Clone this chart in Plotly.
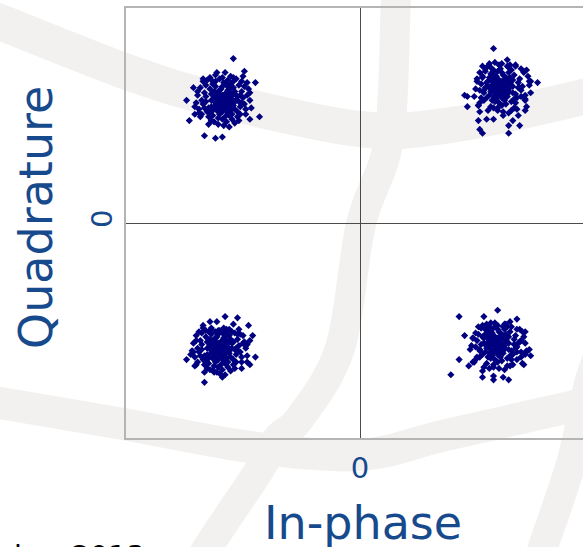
import plotly.graph_objects as go

# Received QPSK symbols (in-phase, quadrature) grouped by constellation point
rx_upper_left = [
    (-0.92, 1.30), (-1.04, 1.19), (-0.98, 1.19), (-0.84, 1.20), (-0.85, 1.16),
    (-1.14, 1.12), (-1.07, 1.12), (-0.76, 1.11), (-0.92, 1.15), (-1.21, 1.07),
    (-1.18, 1.04), (-1.26, 0.97), (-0.73, 0.84), (-0.80, 0.82), (-1.24, 0.81),
    (-1.20, 0.86), (-1.13, 0.69), (-1.05, 0.67), (-1.00, 0.68),
    (-1.00, 0.96), (-0.95, 0.99), (-1.05, 0.93), (-0.98, 1.02), (-1.03, 1.00),
    (-0.93, 0.94), (-1.08, 0.97), (-0.97, 0.90), (-1.01, 1.06), (-0.90, 1.01),
    (-1.06, 1.04), (-0.96, 0.87), (-1.10, 0.91), (-0.92, 1.07), (-0.99, 0.98),
    (-1.04, 0.89), (-0.94, 1.03), (-1.02, 0.94), (-0.88, 0.96), (-1.12, 1.00),
    (-0.97, 1.09), (-1.07, 0.85), (-0.91, 0.90), (-1.00, 1.01), (-0.95, 0.92),
    (-1.03, 0.97), (-0.86, 1.04), (-1.09, 1.06), (-0.98, 0.84), (-1.01, 0.92),
    (-0.93, 0.98), (-1.05, 1.08), (-0.89, 0.88), (-1.14, 0.94), (-0.96, 1.05),
    (-1.02, 0.86), (-0.94, 0.95), (-1.06, 0.99), (-0.99, 1.11), (-0.87, 0.92),
    (-1.11, 0.88), (-0.92, 1.12), (-1.04, 1.03), (-0.97, 0.95), (-1.00, 0.88),
    (-0.90, 0.97), (-1.08, 0.92), (-0.95, 1.06), (-1.03, 0.83), (-0.85, 0.99),
    (-1.13, 1.03), (-0.98, 1.00), (-1.01, 0.99), (-0.93, 0.86), (-1.07, 1.10),
    (-0.96, 0.97), (-1.15, 0.97), (-0.91, 1.04), (-1.02, 1.02), (-0.88, 1.09),
    (-1.05, 0.95), (-0.99, 0.93), (-0.94, 0.89), (-1.09, 0.87), (-0.97, 1.03),
    (-1.00, 1.08), (-0.84, 0.94), (-1.04, 0.91), (-0.92, 0.93), (-1.06, 1.01),
    (-0.95, 0.85), (-1.12, 0.96), (-0.98, 0.91), (-1.02, 1.05), (-0.89, 1.00),
    (-1.17, 0.90), (-0.96, 1.00), (-1.03, 0.94), (-0.91, 0.96), (-1.08, 1.02),
    (-0.82, 1.01), (-1.00, 0.82), (-0.94, 1.10), (-1.10, 0.84), (-0.99, 0.95),
    (-0.87, 0.86), (-1.05, 1.12), (-0.93, 1.01), (-1.01, 0.89), (-0.97, 0.80),
    (-0.84, 1.08), (-1.16, 0.84), (-1.12, 1.09), (-0.83, 0.86), (-0.95, 0.76),
    (-1.05, 1.17), (-1.19, 0.95), (-0.80, 0.97), (-0.90, 1.14), (-1.10, 0.78),
    (-0.88, 0.81), (-1.14, 1.14), (-1.00, 1.15), (-0.99, 0.77), (-1.18, 1.01),
    (-0.81, 1.06), (-0.86, 1.12), (-1.08, 0.81), (-1.15, 0.86), (-0.79, 0.91),
    (-0.94, 1.16), (-1.03, 0.78), (-1.20, 0.92), (-0.82, 1.11), (-1.11, 1.13),
    (-0.91, 0.79), (-0.87, 1.01), (-1.13, 0.91), (-0.96, 1.13), (-1.06, 0.80),
    (-0.83, 0.90), (-1.16, 1.07), (-1.02, 1.14), (-0.89, 0.84), (-1.09, 1.15),
    (-0.80, 1.03), (-1.17, 0.87), (-0.93, 0.82), (-1.07, 0.89), (-0.86, 0.95),
]

rx_upper_right = [
    (0.97, 1.38), (1.07, 1.29), (1.13, 1.25), (1.19, 1.20), (0.89, 1.16),
    (1.29, 1.11), (1.24, 1.12), (0.76, 1.01), (0.78, 1.00), (0.78, 0.92),
    (0.86, 0.93), (0.87, 0.88), (0.86, 0.81), (0.92, 0.82), (1.20, 0.89),
    (1.15, 0.85), (1.11, 0.81), (1.16, 0.77), (1.08, 0.77), (0.87, 0.74),
    (0.89, 0.71), (1.08, 0.71), (1.04, 0.85), (0.97, 0.82),
    (1.03, 1.07), (0.98, 1.10), (1.08, 1.04), (1.01, 1.13), (1.06, 1.11),
    (0.96, 1.05), (1.11, 1.08), (1.00, 1.01), (1.04, 1.17), (0.93, 1.12),
    (1.09, 1.15), (0.99, 0.98), (1.13, 1.02), (0.95, 1.18), (1.02, 1.09),
    (1.07, 1.00), (0.97, 1.14), (1.05, 1.05), (0.91, 1.07), (1.15, 1.11),
    (1.00, 1.20), (1.10, 0.96), (0.94, 1.01), (1.03, 1.12), (0.98, 1.03),
    (1.06, 1.08), (0.89, 1.15), (1.12, 1.17), (1.01, 0.95), (1.04, 1.03),
    (0.96, 1.09), (1.08, 1.19), (0.92, 0.99), (1.17, 1.05), (0.99, 1.16),
    (1.05, 0.97), (0.97, 1.06), (1.09, 1.10), (1.02, 1.22), (0.90, 1.03),
    (1.14, 0.99), (0.95, 1.23), (1.07, 1.14), (1.00, 1.06), (1.03, 0.99),
    (0.93, 1.08), (1.11, 1.03), (0.98, 1.17), (1.06, 0.94), (0.88, 1.10),
    (1.16, 1.14), (1.01, 1.11), (1.04, 1.10), (0.96, 0.97), (1.10, 1.21),
    (0.99, 1.08), (1.18, 1.08), (0.94, 1.15), (1.05, 1.13), (0.91, 1.20),
    (1.08, 1.06), (1.02, 1.04), (0.97, 1.00), (1.12, 0.98), (1.00, 1.14),
    (1.03, 1.19), (0.87, 1.05), (1.07, 1.02), (0.95, 1.04), (1.09, 1.12),
    (0.98, 0.96), (1.15, 1.07), (1.01, 1.02), (1.05, 1.16), (0.92, 1.11),
    (1.20, 1.01), (0.99, 1.11), (1.06, 1.05), (0.94, 1.07), (1.11, 1.13),
    (0.85, 1.12), (1.03, 0.93), (0.97, 1.21), (1.13, 0.95), (1.02, 1.06),
    (0.90, 0.97), (1.08, 1.23), (0.96, 1.12), (1.04, 1.00), (1.00, 0.91),
    (1.19, 1.19), (0.87, 0.95), (0.91, 1.22), (1.20, 0.97), (1.08, 0.87),
    (0.98, 1.27), (0.84, 1.06), (1.23, 1.09), (1.13, 1.24), (0.93, 0.89),
    (1.21, 0.92), (0.89, 1.24), (1.03, 1.26), (1.04, 0.88), (0.85, 1.14),
    (1.22, 1.16), (1.17, 1.22), (0.95, 0.92), (0.88, 0.99), (1.24, 1.03),
    (1.09, 1.25), (1.00, 0.89), (0.83, 1.00), (1.21, 1.21), (0.92, 1.23),
    (1.12, 0.91), (1.16, 1.07), (0.90, 1.05), (1.07, 1.24), (0.97, 0.91),
    (1.20, 0.98), (0.87, 1.19), (1.01, 1.25), (1.14, 0.90), (0.94, 1.26),
    (1.23, 1.12), (0.86, 0.93), (1.10, 0.89), (0.96, 1.18), (1.17, 1.00),
]

rx_lower_left = [
    (-0.98, -0.74), (-0.89, -0.75), (-0.92, -0.80), (-0.81, -0.81), (-0.88, -0.84),
    (-0.78, -0.89), (-0.80, -0.93), (-0.82, -0.96), (-1.14, -0.81), (-1.04, -0.78),
    (-1.09, -0.78), (-1.19, -0.93), (-1.26, -1.08), (-1.21, -1.02), (-0.76, -1.06),
    (-0.80, -1.12), (-0.82, -1.10), (-1.13, -1.26), (-1.07, -1.16), (-1.00, -1.22),
    (-1.04, -1.18), (-0.86, -1.15),
    (-1.03, -1.00), (-0.98, -0.97), (-1.08, -1.03), (-1.01, -0.94), (-1.06, -0.96),
    (-0.96, -1.02), (-1.11, -0.99), (-1.00, -1.06), (-1.04, -0.90), (-0.93, -0.95),
    (-1.09, -0.92), (-0.99, -1.09), (-1.13, -1.05), (-0.95, -0.89), (-1.02, -0.98),
    (-1.07, -1.07), (-0.97, -0.93), (-1.05, -1.02), (-0.91, -1.00), (-1.15, -0.96),
    (-1.00, -0.87), (-1.10, -1.11), (-0.94, -1.06), (-1.03, -0.95), (-0.98, -1.04),
    (-1.06, -0.99), (-0.89, -0.92), (-1.12, -0.90), (-1.01, -1.12), (-1.04, -1.04),
    (-0.96, -0.98), (-1.08, -0.88), (-0.92, -1.08), (-1.17, -1.02), (-0.99, -0.91),
    (-1.05, -1.10), (-0.97, -1.01), (-1.09, -0.97), (-1.02, -0.85), (-0.90, -1.04),
    (-1.14, -1.08), (-0.95, -0.84), (-1.07, -0.93), (-1.00, -1.01), (-1.03, -1.08),
    (-0.93, -0.99), (-1.11, -1.04), (-0.98, -0.90), (-1.06, -1.13), (-0.88, -0.97),
    (-1.16, -0.93), (-1.01, -0.96), (-1.04, -0.97), (-0.96, -1.10), (-1.10, -0.86),
    (-0.99, -0.99), (-1.18, -0.99), (-0.94, -0.92), (-1.05, -0.94), (-0.91, -0.87),
    (-1.08, -1.01), (-1.02, -1.03), (-0.97, -1.07), (-1.12, -1.09), (-1.00, -0.93),
    (-1.03, -0.88), (-0.87, -1.02), (-1.07, -1.05), (-0.95, -1.03), (-1.09, -0.95),
    (-0.98, -1.11), (-1.15, -1.00), (-1.01, -1.05), (-1.05, -0.91), (-0.92, -0.94),
    (-1.20, -1.06), (-0.99, -0.96), (-1.06, -1.02), (-0.94, -1.00), (-1.11, -0.94),
    (-0.85, -0.95), (-1.03, -1.14), (-0.97, -0.86), (-1.13, -1.12), (-1.02, -1.01),
    (-0.90, -1.10), (-1.08, -0.84), (-0.96, -0.95), (-1.04, -1.06), (-1.00, -1.16),
    (-0.87, -0.88), (-1.19, -1.12), (-1.15, -0.87), (-0.86, -1.10), (-0.98, -1.20),
    (-1.08, -0.83), (-1.22, -1.01), (-0.83, -0.99), (-0.93, -0.86), (-1.13, -1.18),
    (-0.91, -1.15), (-1.17, -0.86), (-1.03, -0.85), (-1.02, -1.19), (-1.21, -0.95),
    (-0.84, -0.94), (-0.89, -0.88), (-1.11, -1.15), (-1.18, -1.10), (-0.82, -1.05),
    (-0.97, -0.84), (-1.06, -1.18), (-1.23, -1.04), (-0.85, -0.89), (-1.14, -0.83),
    (-0.94, -1.17), (-0.90, -0.99), (-1.16, -1.05), (-0.99, -0.83), (-1.09, -1.16),
    (-0.86, -1.06), (-1.19, -0.89), (-1.05, -0.86), (-0.92, -1.12), (-1.12, -0.85),
    (-0.83, -0.97), (-1.20, -1.13), (-0.96, -1.14), (-1.10, -1.07), (-0.89, -1.01),
]

rx_lower_right = [
    (1.00, -0.69), (0.72, -0.74), (0.90, -0.74), (1.14, -0.76), (1.09, -0.78),
    (0.76, -0.89), (1.20, -0.86), (1.16, -0.94), (1.23, -1.00), (1.24, -1.05),
    (1.21, -1.02), (0.72, -1.08), (0.66, -1.20), (1.19, -1.12), (1.14, -1.08),
    (0.89, -1.17), (0.97, -1.21), (0.89, -1.22), (1.04, -1.22), (1.08, -1.24),
    (0.97, -1.24), (0.82, -1.10), (0.79, -1.13),
    (1.00, -0.96), (0.95, -0.93), (1.05, -0.99), (0.98, -0.90), (1.03, -0.92),
    (0.93, -0.98), (1.08, -0.95), (0.97, -1.02), (1.01, -0.86), (0.90, -0.91),
    (1.06, -0.88), (0.96, -1.05), (1.10, -1.01), (0.92, -0.85), (0.99, -0.94),
    (1.04, -1.03), (0.94, -0.89), (1.02, -0.98), (0.88, -0.96), (1.12, -0.92),
    (0.97, -0.83), (1.07, -1.07), (0.91, -1.02), (1.00, -0.91), (0.95, -1.00),
    (1.03, -0.95), (0.86, -0.88), (1.09, -0.86), (0.98, -1.08), (1.01, -1.00),
    (0.93, -0.94), (1.05, -0.84), (0.89, -1.04), (1.14, -0.98), (0.96, -0.87),
    (1.02, -1.06), (0.94, -0.97), (1.06, -0.93), (0.99, -0.81), (0.87, -1.00),
    (1.11, -1.04), (0.92, -0.80), (1.04, -0.89), (0.97, -0.97), (1.00, -1.04),
    (0.90, -0.95), (1.08, -1.00), (0.95, -0.86), (1.03, -1.09), (0.85, -0.93),
    (1.13, -0.89), (0.98, -0.92), (1.01, -0.93), (0.93, -1.06), (1.07, -0.82),
    (0.96, -0.95), (1.15, -0.95), (0.91, -0.88), (1.02, -0.90), (0.88, -0.83),
    (1.05, -0.97), (0.99, -0.99), (0.94, -1.03), (1.09, -1.05), (0.97, -0.89),
    (1.00, -0.84), (0.84, -0.98), (1.04, -1.01), (0.92, -0.99), (1.06, -0.91),
    (0.95, -1.07), (1.12, -0.96), (0.98, -1.01), (1.02, -0.87), (0.89, -0.90),
    (1.17, -1.02), (0.96, -0.92), (1.03, -0.98), (0.91, -0.96), (1.08, -0.90),
    (0.82, -0.91), (1.00, -1.10), (0.94, -0.82), (1.10, -1.08), (0.99, -0.97),
    (0.87, -1.06), (1.05, -0.80), (0.93, -0.91), (1.01, -1.02), (0.97, -1.12),
    (1.16, -0.84), (0.84, -1.08), (0.88, -0.83), (1.17, -1.06), (1.05, -1.16),
    (0.95, -0.79), (0.81, -0.97), (1.20, -0.95), (1.10, -0.82), (0.90, -1.14),
    (1.18, -1.11), (0.86, -0.82), (1.00, -0.81), (1.01, -1.15), (0.82, -0.91),
    (1.19, -0.90), (1.14, -0.84), (0.92, -1.11), (0.85, -1.06), (1.21, -1.01),
    (1.06, -0.80), (0.97, -1.14), (0.80, -1.00), (1.18, -0.86), (0.89, -0.81),
    (1.09, -1.13), (1.13, -0.99), (0.87, -1.01), (1.04, -0.82), (0.94, -1.15),
    (1.17, -0.93), (0.84, -0.87), (0.98, -0.79), (1.11, -1.12), (0.91, -0.84),
    (1.20, -1.04), (0.83, -1.10), (1.07, -1.13), (0.93, -0.88), (1.14, -1.02),
]

clusters = [rx_upper_left, rx_upper_right, rx_lower_left, rx_lower_right]

axis_ticks = [0]
axis_tick_text = ["0"]
x_title = "In-phase"
y_title = "Quadrature"
footer_text = "ber 2013"

TITLE_BLUE = "#174a8c"
MARKER_NAVY = "#000080"
WATERMARK = "#f2f1ef"

W, H = 583, 547
L, R, T, B = 126, 0, 8, 109
PW, PH = W - L - R, H - T - B


def to_paper(p):
    px, py = p
    return ((px - L) / PW, (H - B - py) / PH)


def smooth_path(points):
    """Catmull-Rom curve through pixel points, as an SVG path in paper units."""
    P = [to_paper(p) for p in points]
    d = f"M {P[0][0]:.4f},{P[0][1]:.4f}"
    for i in range(len(P) - 1):
        p0 = P[i - 1] if i > 0 else P[i]
        p1, p2 = P[i], P[i + 1]
        p3 = P[i + 2] if i + 2 < len(P) else P[i + 1]
        c1 = (p1[0] + (p2[0] - p0[0]) / 6, p1[1] + (p2[1] - p0[1]) / 6)
        c2 = (p2[0] - (p3[0] - p1[0]) / 6, p2[1] - (p3[1] - p1[1]) / 6)
        d += (f" C {c1[0]:.4f},{c1[1]:.4f} {c2[0]:.4f},{c2[1]:.4f}"
              f" {p2[0]:.4f},{p2[1]:.4f}")
    return d


# Background emblem strokes (pixel centre-lines, stroke width)
emblem = [
    ([(-30, 10), (0, 22), (130, 73), (220, 100), (360, 129), (450, 125), (583, 97), (620, 85)], 36),
    ([(-30, 398), (0, 403), (123, 424), (250, 447), (360, 455), (446, 435), (583, 404), (620, 394)], 32),
    ([(400, -30), (396, 0), (389, 139), (361, 224), (340, 348), (300, 418), (278, 438), (258, 472), (208, 547), (190, 580)], 30),
    ([(610, 330), (590, 380), (572, 460), (543, 547), (532, 580)], 30),
]

fig = go.Figure()

for pts in clusters:
    fig.add_trace(go.Scatter(
        x=[p[0] for p in pts],
        y=[p[1] for p in pts],
        mode="markers",
        marker=dict(symbol="diamond", size=5.5, color=MARKER_NAVY,
                    line=dict(width=0)),
        showlegend=False,
        hoverinfo="skip",
    ))

shapes = []
for pts, width in emblem:
    shapes.append(dict(type="path", xref="paper", yref="paper",
                       path=smooth_path(pts), layer="below",
                       line=dict(color=WATERMARK, width=width)))

tick_font = dict(family="DejaVu Sans", size=29, color=TITLE_BLUE)

fig.update_layout(
    width=W, height=H,
    margin=dict(l=L, r=R, t=T, b=B, pad=0),
    paper_bgcolor="white",
    plot_bgcolor="rgba(0,0,0,0)",
    shapes=shapes,
    xaxis=dict(range=[-1.7, 1.7 * (W - 360) / (360 - L)],
               showgrid=False, zeroline=True, zerolinecolor="#4a4a4a",
               zerolinewidth=1, showline=True, linecolor="#b4b4b4",
               linewidth=2, mirror=True, ticks="",
               tickvals=axis_ticks, ticktext=axis_tick_text,
               ticklabelstandoff=3,
               tickfont=tick_font, fixedrange=True),
    yaxis=dict(range=[-1.7, 1.7],
               showgrid=False, zeroline=True, zerolinecolor="#4a4a4a",
               zerolinewidth=1, showline=True, linecolor="#b4b4b4",
               linewidth=2, mirror=False, ticks="",
               tickvals=axis_ticks, ticktext=axis_tick_text,
               tickangle=-90, tickfont=tick_font, fixedrange=True),
    annotations=[
        dict(text=y_title, xref="paper", yref="paper",
             x=to_paper((36, 0))[0], y=to_paper((0, 218))[1],
             xanchor="center", yanchor="middle", textangle=-90,
             showarrow=False,
             font=dict(family="DejaVu Sans", size=46, color=TITLE_BLUE)),
        dict(text=x_title, xref="paper", yref="paper",
             x=to_paper((363, 0))[0], y=to_paper((0, 523))[1],
             xanchor="center", yanchor="middle", showarrow=False,
             font=dict(family="DejaVu Sans", size=46, color=TITLE_BLUE)),
        dict(text=footer_text, xref="paper", yref="paper",
             x=to_paper((12, 0))[0], y=to_paper((0, 536.5))[1],
             xanchor="left", yanchor="top", showarrow=False,
             font=dict(family="DejaVu Sans", size=29, color="black")),
    ],
)

fig.write_html("out.html")
